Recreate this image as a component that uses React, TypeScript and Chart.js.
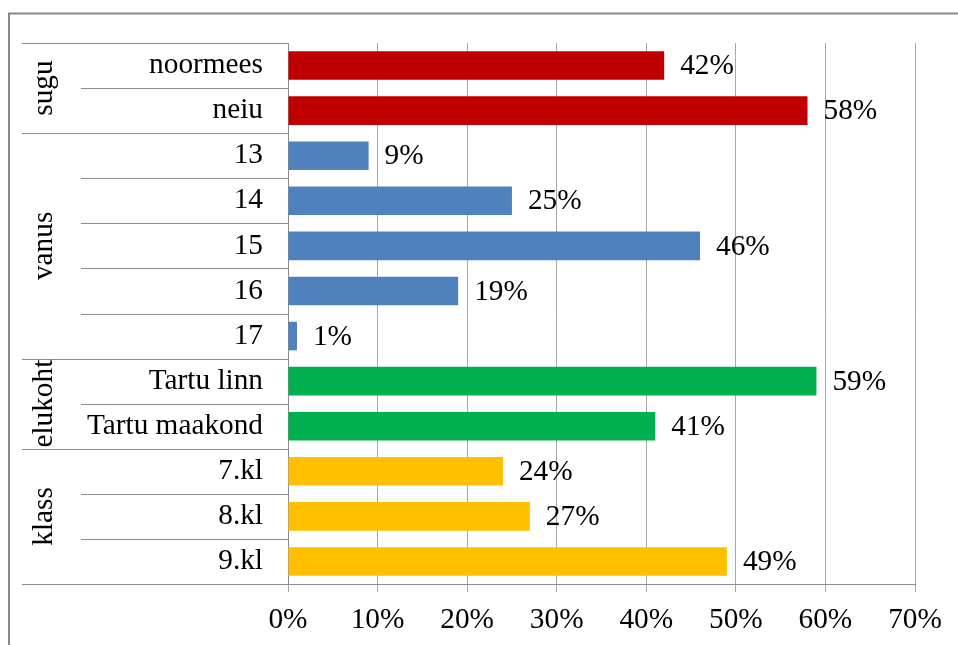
import React, { useEffect, useRef } from "react";
import { Chart, registerables } from "chart.js";

Chart.register(...registerables);

const categories = [
  "noormees",
  "neiu",
  "13",
  "14",
  "15",
  "16",
  "17",
  "Tartu linn",
  "Tartu maakond",
  "7.kl",
  "8.kl",
  "9.kl",
];
const values = [42, 58, 9, 25, 46, 19, 1, 59, 41, 24, 27, 49];
const groupNames = ["sugu", "vanus", "elukoht", "klass"];
const groupSizes = [2, 5, 2, 3];
const groupColors = ["#C00000", "#4F81BD", "#00B050", "#FFC000"];
const xMin = 0;
const xMax = 70;
const xStep = 10;

const FONT = "'Liberation Serif', 'Times New Roman', serif";
const FS = 29.3;

const barColors: string[] = [];
groupSizes.forEach((s, g) => {
  for (let i = 0; i < s; i++) barColors.push(groupColors[g]);
});

const groupStarts: number[] = [];
{
  let acc = 0;
  groupSizes.forEach((s) => {
    groupStarts.push(acc);
    acc += s;
  });
  groupStarts.push(acc);
}

const decorPlugin = {
  id: "decor",
  afterDatasetsDraw(chart: any) {
    const ctx = chart.ctx;
    const meta = chart.getDatasetMeta(0);
    ctx.save();
    ctx.font = `${FS}px ${FONT}`;
    ctx.fillStyle = "#000";
    ctx.textAlign = "left";
    ctx.textBaseline = "middle";
    meta.data.forEach((bar: any, i: number) => {
      ctx.fillText(values[i] + "%", bar.x + 16, bar.y + 1);
    });
    ctx.restore();
  },
  afterDraw(chart: any) {
    const ctx = chart.ctx;
    const ys = chart.scales.y;
    const area = chart.chartArea;
    const n = categories.length;
    ctx.save();
    ctx.strokeStyle = "#8c8c8c";
    ctx.lineWidth = 1;
    for (let k = 0; k <= n; k++) {
      const py = Math.round(ys.getPixelForValue(k - 0.5)) + 0.5;
      const isGroup = groupStarts.includes(k);
      const x0 = isGroup ? 22 : 81;
      ctx.beginPath();
      ctx.moveTo(x0, py);
      ctx.lineTo(area.left, py);
      ctx.stroke();
    }
    // group labels
    ctx.font = `${FS}px ${FONT}`;
    ctx.fillStyle = "#000";
    ctx.textAlign = "center";
    ctx.textBaseline = "alphabetic";
    groupNames.forEach((name, g) => {
      const a = ys.getPixelForValue(groupStarts[g] - 0.5);
      const b = ys.getPixelForValue(groupStarts[g + 1] - 0.5);
      const cy = (a + b) / 2;
      ctx.save();
      ctx.translate(52, cy);
      ctx.rotate(-Math.PI / 2);
      ctx.fillText(name, 0, 0);
      ctx.restore();
    });
    // outer border
    ctx.strokeStyle = "#888888";
    ctx.lineWidth = 2;
    ctx.strokeRect(9, 13.5, 2000, 2000);
    ctx.restore();
  },
};

export default function App() {
  const ref = useRef<HTMLCanvasElement | null>(null);
  useEffect(() => {
    if (!ref.current) return;
    const chart = new Chart(ref.current, {
      type: "bar",
      data: {
        labels: categories,
        datasets: [
          {
            data: values,
            backgroundColor: barColors,
            borderWidth: 0,
            barPercentage: 0.635,
            categoryPercentage: 1,
          },
        ],
      },
      options: {
        indexAxis: "y",
        responsive: false,
        animation: false,
        layout: { padding: { top: 43, right: 43, bottom: 0, left: 0 } },
        plugins: {
          legend: { display: false },
          tooltip: { enabled: false },
        },
        scales: {
          x: {
            min: xMin,
            max: xMax,
            ticks: {
              stepSize: xStep,
              callback: (v: any) => v + "%",
              font: { family: FONT, size: FS },
              color: "#000",
              padding: 11,
            },
            grid: {
              color: "#a6a6a6",
              lineWidth: 1,
              tickLength: 8,
              drawTicks: true,
            },
            border: { display: true, color: "#8c8c8c", width: 1 },
            afterFit: (s: any) => {
              s.height = 61;
            },
          },
          y: {
            offset: true,
            ticks: {
              font: { family: FONT, size: FS },
              color: "#000",
              padding: 25,
              autoSkip: false,
            },
            grid: { display: false, drawTicks: false },
            border: { display: true, color: "#8c8c8c", width: 1 },
            afterFit: (s: any) => {
              s.width = 288;
            },
          },
        },
      },
      plugins: [decorPlugin],
    });
    return () => chart.destroy();
  }, []);
  return (
    <div style={{ position: "absolute", left: 0, top: 0, width: 958, height: 645, background: "#fff" }}>
      <canvas ref={ref} width={958} height={645} style={{ display: "block" }} />
    </div>
  );
}
